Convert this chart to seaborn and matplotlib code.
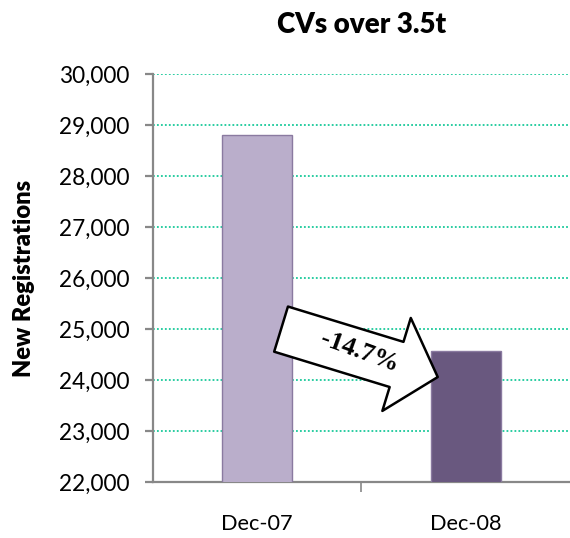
import matplotlib
matplotlib.use("Agg")
import matplotlib.pyplot as plt
import pandas as pd
import seaborn as sns
from matplotlib.ticker import FuncFormatter, FixedLocator

months = ["Dec-07", "Dec-08"]
registrations = [28800, 24570]
bar_colors = ["#b9a9d0", "#685186"]
change_label = "-14.7%"

df = pd.DataFrame({"month": months, "registrations": registrations})

sns.set_theme(style="white")
plt.rcParams["font.family"] = ["Lato", "DejaVu Sans"]
plt.rcParams["text.color"] = "black"
plt.rcParams["axes.labelcolor"] = "black"

fig = plt.figure(figsize=(5.7, 5.38), dpi=100)
ax = fig.add_axes([0.268, 0.104, 0.732, 0.758])

sns.barplot(
    data=df,
    x="month",
    y="registrations",
    hue="month",
    palette=bar_colors,
    width=0.335,
    edgecolor="#8a7aa0",
    linewidth=1.0,
    legend=False,
    ax=ax,
    zorder=3,
)

ax.set_ylim(22000, 30000)
ax.set_xlim(-0.5, 1.5)
ax.yaxis.set_major_locator(FixedLocator(range(22000, 30001, 1000)))
ax.yaxis.set_major_formatter(FuncFormatter(lambda v, _: f"{int(v):,}"))
ax.yaxis.grid(True, linestyle=(0, (1, 1.2)), color="#19c99a", linewidth=1.3, zorder=0)
ax.set_axisbelow(True)

for side in ["top", "right"]:
    ax.spines[side].set_visible(False)
for side in ["left", "bottom"]:
    ax.spines[side].set_color("#888888")
    ax.spines[side].set_linewidth(1.6)

ax.tick_params(axis="y", which="major", left=True, length=6, width=1.6, color="#888888",
               labelsize=16.3, pad=11, labelcolor="black")
ax.tick_params(axis="x", which="major", length=0, labelsize=15.7, pad=23, labelcolor="black")
ax.xaxis.set_minor_locator(FixedLocator([0.5]))
ax.tick_params(axis="x", which="minor", bottom=True, length=7, width=1.2, color="#888888")

ax.set_xlabel("")
ax.set_ylabel("New Registrations", fontsize=17, fontweight="heavy", color="black", labelpad=17)
ax.set_title("CVs over 3.5t", fontsize=20, fontweight="heavy", color="black", pad=30)

# change arrow between the two bars
ax.annotate(
    "",
    xy=(0.866, 24060),
    xytext=(0.115, 25000),
    arrowprops=dict(
        arrowstyle="simple,head_length=31,head_width=70,tail_width=34",
        mutation_scale=1,
        facecolor="white",
        edgecolor="black",
        linewidth=1.8,
        shrinkA=0,
        shrinkB=0,
    ),
    zorder=5,
)
ax.text(0.49, 24560, change_label, rotation=-20, ha="center", va="center",
        fontsize=19, fontweight="bold", color="black",
        family=["Liberation Serif", "DejaVu Serif"], zorder=6)

fig.savefig("out.png", dpi=100)
